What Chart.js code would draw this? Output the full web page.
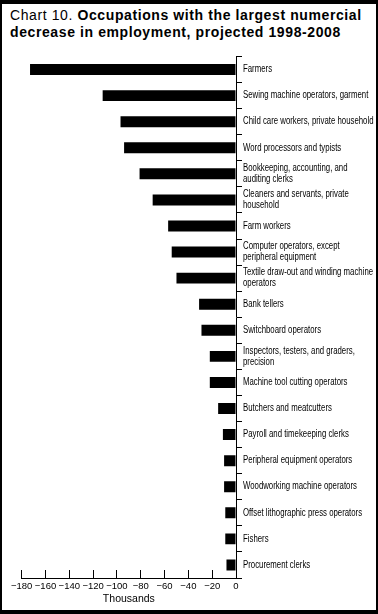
<!DOCTYPE html>
<html>
<head>
<meta charset="utf-8">
<script src="https://cdn.jsdelivr.net/npm/chart.js@4"></script>
<style>
  html, body { margin: 0; padding: 0; background: #fff; }
  #frame {
    position: relative;
    width: 378px;
    height: 614px;
    box-sizing: border-box;
    border-top: 4px solid #000;
    border-bottom: 4px solid #000;
    border-left: 2px solid #000;
    border-right: 2px solid #000;
    overflow: hidden;
  }
  #title {
    position: absolute;
    left: 8px;
    top: 3px;
    font-family: "Liberation Sans", Arial, sans-serif;
    font-size: 14px;
    line-height: 16.5px;
    letter-spacing: 0.6px;
    color: #000;
    white-space: nowrap;
  }
  #title b { font-weight: bold; }
  #chartBox {
    position: absolute;
    left: -2px;
    top: -4px;
    width: 378px;
    height: 614px;
  }
</style>
</head>
<body>
<div id="frame">
  <div id="title">Chart 10. <b>Occupations with the largest numercial<br>decrease in employment, projected 1998-2008</b></div>
  <div id="chartBox"><canvas id="myChart" width="378" height="614"></canvas></div>
</div>
<script>
// occupations, top to bottom
let occupations = [
  "Farmers",
  "Sewing machine operators, garment",
  "Child care workers, private household",
  "Word processors and typists",
  ["Bookkeeping, accounting, and", "auditing clerks"],
  ["Cleaners and servants, private", "household"],
  "Farm workers",
  ["Computer operators, except", "peripheral equipment"],
  ["Textile draw-out and winding machine", "operators"],
  "Bank tellers",
  "Switchboard operators",
  ["Inspectors, testers, and graders,", "precision"],
  "Machine tool cutting operators",
  "Butchers and meatcutters",
  "Payroll and timekeeping clerks",
  "Peripheral equipment operators",
  "Woodworking machine operators",
  "Offset lithographic press operators",
  "Fishers",
  "Procurement clerks"
];

// projected change 1998-2008, thousands
let change = [-173, -112, -97, -94, -81, -70, -57, -54, -50, -31,
  -29, -22, -22, -15, -11, -10, -10, -9, -9, -8];

// x axis
let xMin = -180,
xMax = 0,
xStep = 20,
xTitle = "Thousands";

let plainFont = '"Liberation Sans", Arial, sans-serif';

// no narrow font installed, so squeeze the category labels by hand
let narrowLabels = {
  id: 'narrowLabels',
  afterDraw(chart) {
    let yScale = chart.scales.y;
    let c = chart.ctx;
    let labels = chart.data.labels;
    c.save();
    c.font = '10px ' + plainFont;
    c.fillStyle = '#000';
    c.textBaseline = 'middle';
    c.textAlign = 'left';
    for (let i = 0; i < labels.length; i++) {
      let lines = [].concat(labels[i]);
      let y = yScale.getPixelForTick(i);
      for (let j = 0; j < lines.length; j++) {
        let ly = y + (j - (lines.length - 1) / 2) * 11;
        c.save();
        c.translate(yScale.left + 7, ly);
        c.scale(0.78, 1);
        c.fillText(lines[j], 0, 0);
        c.restore();
      }
    }
    c.restore();
  }
};

let ctx = document.getElementById('myChart').getContext('2d');
let myChart = new Chart(ctx, {
  type: 'bar',
  data: {
    labels: occupations,
    datasets: [{
      data: change,
      backgroundColor: '#000',
      borderWidth: 0,
      barPercentage: 0.42,
      categoryPercentage: 1
    }]
  },
  options: {
    indexAxis: 'y',
    responsive: false,
    devicePixelRatio: 1,
    animation: false,
    layout: { padding: { left: 21, top: 56.5, right: 0, bottom: 4 } },
    plugins: {
      legend: { display: false },
      tooltip: { enabled: false },
      title: { display: false }
    },
    scales: {
      x: {
        type: 'linear',
        position: 'bottom',
        min: xMin,
        max: xMax,
        ticks: {
          stepSize: xStep,
          autoSkip: false,
          color: '#000',
          padding: 11,
          maxRotation: 0,
          font: { family: plainFont, size: 9.5 },
          callback: (v) => String(v).replace('-', '\u2212')
        },
        grid: {
          drawOnChartArea: false,
          color: '#000',
          tickLength: -8,
          lineWidth: 1
        },
        border: { color: '#000', width: 1 },
        title: {
          display: true,
          text: xTitle,
          color: '#000',
          padding: { top: 2, bottom: 4.5 },
          font: { family: plainFont, size: 10.5 }
        },
        afterFit: (scale) => { scale.height = 32; }
      },
      y: {
        type: 'category',
        position: 'right',
        ticks: { display: false, autoSkip: false },
        grid: {
          drawOnChartArea: false,
          color: '#000',
          tickLength: 6,
          offset: true
        },
        border: { color: '#000', width: 1 },
        afterFit: (scale) => { scale.width = 142; }
      }
    }
  },
  plugins: [narrowLabels]
});
</script>
</body>
</html>
